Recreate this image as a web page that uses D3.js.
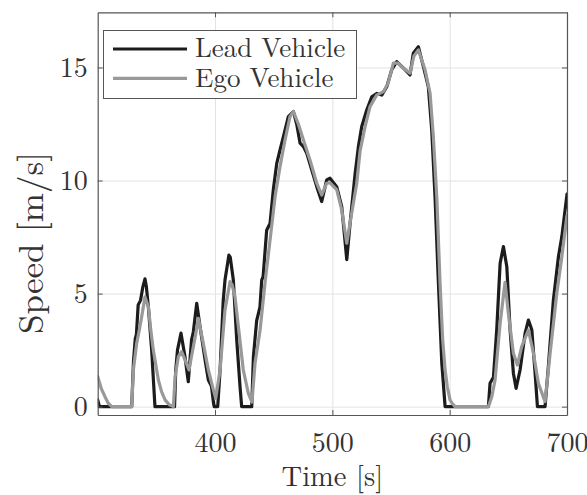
<!DOCTYPE html>
<html>
<head>
<meta charset="utf-8">
<script src="https://cdn.jsdelivr.net/npm/d3@7/dist/d3.min.js"></script>
<style>
  html, body { margin: 0; padding: 0; background: #ffffff; }
  svg { display: block; }
</style>
</head>
<body>
<svg id="chart" width="587" height="495"></svg>
<script>
// ---- data ----
const xTicks = [400, 500, 600, 700];
const yTicks = [0, 5, 10, 15];
const xLabel = "Time [s]";
const yLabel = "Speed [m/s]";
const seriesNames = ["Lead Vehicle", "Ego Vehicle"];

const leadTime = [300, 301.5, 329, 330.5, 332, 333, 334.5, 336.5, 338.5, 340.3, 341.5, 343.2, 346, 348.8,
  365.5, 366.5, 368, 371, 374.4, 377.2, 380, 381.5, 384.4, 387.2, 391.5, 394.3, 397, 398.6, 399.3,
  402.3, 404.3, 407, 408.5, 411.8, 413, 415.6, 418.5, 421.3, 422.7,
  431.3, 432.7, 435.5, 438.3, 439.8, 441, 444, 446.9, 449.7, 452.6, 455.4, 458.3, 462.5, 466.8,
  469.6, 472.5, 475.3, 478.2, 482.4, 486.7, 490.9, 495.2, 498, 503.7, 508, 512.3, 515.1, 519.4,
  522.2, 525, 529.3, 533.6, 537.8, 542.1, 546.4, 550.6, 554.9, 560.6, 566.2, 569, 573.3, 577.6,
  581.8, 584.7, 587.5, 590.4, 593.3, 596.1,
  633, 634.4, 637.3, 640.1, 643, 645.8, 648.7, 651.5, 654.3, 656.6, 660, 664.3, 667.1, 670, 672.8, 674.8,
  681.3, 684.1, 688.4, 692.7, 695.6, 700];
const leadSpeed = [0.3, 0, 0, 2.0, 3.0, 3.2, 4.5, 4.7, 5.3, 5.65, 5.3, 4.4, 2.5, 0,
  0, 1.6, 2.5, 3.25, 2.2, 1.1, 2.95, 3.3, 4.57, 3.54, 2.07, 1.18, 0.9, 0.2, 0,
  0, 1.6, 4.7, 5.6, 6.7, 6.6, 5.6, 2.95, 0.9, 0,
  0, 2.2, 3.8, 4.4, 5.6, 5.75, 7.8, 8.1, 9.6, 10.76, 11.35, 11.94, 12.83, 13.05,
  12.5, 11.65, 11.5, 11.2, 10.47, 9.73, 9.07, 10.03, 10.1, 9.73, 8.85, 6.5, 8.1, 10.3,
  11.5, 12.38, 13.12, 13.7, 13.85, 13.78, 14.15, 14.9, 15.26, 14.97, 14.67, 15.63, 15.92, 15.04,
  14.15, 12.24, 9.29, 5.46, 1.92, 0,
  0, 1.03, 1.3, 3.39, 6.34, 7.08, 6.19, 3.39, 1.48, 0.81, 1.62, 3.25, 3.83, 3.4, 1.48, 0,
  0, 1.77, 4.72, 6.63, 7.52, 9.4];

const egoTime = [300, 303, 306.2, 309, 312, 329, 330.4, 333.2, 335.5, 337.5, 340.3, 343.2, 345, 347.4,
  351.7, 354.5, 357.4, 361, 364.5, 366, 368.7, 371.5, 374.4, 377.8, 381.5, 383.5, 385.8, 390, 394.3,
  398.6, 400.6, 404.3, 408.5, 412.8, 414.5, 417, 419.9, 424.1, 428.4, 431.5, 434.1, 438.4, 442.6,
  446.9, 451.2, 455.4, 459.7, 463.9, 466.8, 471, 475.3, 481, 486.7, 490.9, 495.2, 498, 503.7, 508,
  512.3, 515, 520.8, 523.6, 527.9, 532.1, 537.8, 543.5, 547.5, 552, 556, 561, 566.2, 569.5, 573.3,
  579, 583.3, 586, 589, 591.8, 594, 596.1, 598, 600.3, 602, 604.6,
  633, 635.9, 638.7, 643, 647.2, 650, 654.3, 657.7, 661.4, 667.1, 671.4, 675.6, 681.3, 685.6, 691.3,
  695.6, 700];
const egoSpeed = [1.33, 0.8, 0.44, 0.15, 0, 0, 1.62, 2.8, 3.4, 3.98, 4.85, 4.42, 3.5, 2.5,
  1.18, 0.65, 0.3, 0.08, 0, 1.33, 2.2, 2.43, 2.07, 1.62, 2.65, 3.2, 3.9, 2.8, 1.62,
  0.74, 0.37, 1.62, 4.28, 5.53, 5.4, 4.87, 3.54, 1.62, 0.59, 0.2, 1.92, 3.39, 5.46,
  7.37, 9.29, 10.61, 11.8, 12.83, 13.05, 12.5, 11.8, 10.9, 9.88, 9.36, 9.88, 9.9, 9.6, 8.7,
  7.23, 8.1, 9.88, 11.3, 12.38, 13.27, 13.78, 13.93, 14.3, 15.19, 15.19, 14.95, 14.75, 15.5, 15.78,
  14.9, 13.86, 12.0, 9.29, 5.46, 3.0, 1.62, 0.88, 0.3, 0.15, 0,
  0, 0.44, 1.18, 3.69, 5.5, 4.13, 2.36, 1.84, 2.65, 3.39, 2.36, 1.03, 0.22, 2.36, 5.01,
  6.63, 8.45];

// ---- layout ----
const svg = d3.select("#chart");
const mLeft = 97.7, mRight = 567, mTop = 12.3, mBottom = 415;
const x = d3.scaleLinear().domain([300, 700]).range([mLeft, mRight]);
const y = d3.scaleLinear().domain([-0.37, 17.44]).range([mBottom, mTop]);
const W = mRight - mLeft, H = mBottom - mTop;
const frameColor = "#555555";
const textColor = "#333333";
const FONT = "Latin Modern Roman";
const tickFont = 28, xLabelFont = 28.5, yLabelFont = 35, legendFont = 27;

// grid
svg.append("g").attr("transform", `translate(0,${mBottom})`)
  .call(d3.axisBottom(x).tickValues(xTicks.filter(d => d < 700)).tickSize(-H).tickFormat(""))
  .call(g => g.select(".domain").remove())
  .call(g => g.selectAll("line").attr("stroke", "#e3e3e3").attr("stroke-width", 1));
svg.append("g").attr("transform", `translate(${mLeft},0)`)
  .call(d3.axisLeft(y).tickValues(yTicks).tickSize(-W).tickFormat(""))
  .call(g => g.select(".domain").remove())
  .call(g => g.selectAll("line").attr("stroke", "#e3e3e3").attr("stroke-width", 1));

// lines
svg.append("clipPath").attr("id", "clip")
  .append("rect").attr("x", mLeft).attr("y", mTop).attr("width", W).attr("height", H);
const line = d3.line().x(d => x(d[0])).y(d => y(d[1]));
const leadData = leadTime.map((t, i) => [t, leadSpeed[i]]);
const egoData = egoTime.map((t, i) => [t, egoSpeed[i]]);
const colors = ["#1c1c1c", "#999999"];
const plotG = svg.append("g").attr("clip-path", "url(#clip)");
plotG.append("path").datum(leadData).attr("d", line)
  .attr("fill", "none").attr("stroke", colors[0]).attr("stroke-width", 3.2)
  .attr("stroke-linejoin", "round").attr("stroke-linecap", "round");
plotG.append("path").datum(egoData).attr("d", line)
  .attr("fill", "none").attr("stroke", colors[1]).attr("stroke-width", 3.2)
  .attr("stroke-linejoin", "round").attr("stroke-linecap", "round");

// axes with inward ticks and labels
const tickLen = 5;
const xAx = svg.append("g").attr("transform", `translate(0,${mBottom})`)
  .call(d3.axisBottom(x).tickValues(xTicks).tickSize(-tickLen).tickSizeOuter(0).tickFormat(d3.format("d")));
const yAx = svg.append("g").attr("transform", `translate(${mLeft},0)`)
  .call(d3.axisLeft(y).tickValues(yTicks).tickSize(-tickLen).tickSizeOuter(0).tickFormat(d3.format("d")));
const xTop = svg.append("g").attr("transform", `translate(0,${mTop})`)
  .call(d3.axisTop(x).tickValues(xTicks).tickSize(-tickLen).tickSizeOuter(0).tickFormat(""));
const yRight = svg.append("g").attr("transform", `translate(${mRight},0)`)
  .call(d3.axisRight(y).tickValues(yTicks).tickSize(-tickLen).tickSizeOuter(0).tickFormat(""));
[xAx, yAx, xTop, yRight].forEach(g => {
  g.attr("font-family", FONT).attr("font-size", tickFont);
  g.select(".domain").attr("stroke", frameColor).attr("stroke-width", 1.2);
  g.selectAll(".tick line").attr("stroke", frameColor).attr("stroke-width", 1);
});
xAx.selectAll("text").attr("font-family", FONT).attr("y", 37).attr("dy", 0).attr("fill", textColor);
yAx.selectAll("text").attr("font-family", FONT).attr("x", -10).attr("dy", "0.33em").attr("fill", textColor);

// axis labels
svg.append("text").attr("x", (mLeft + mRight) / 2).attr("y", 486)
  .attr("font-family", FONT).attr("font-size", xLabelFont).attr("fill", textColor)
  .attr("text-anchor", "middle").text(xLabel);
svg.append("text").attr("transform", `translate(43,243) rotate(-90)`)
  .attr("font-family", FONT).attr("font-size", yLabelFont).attr("fill", textColor)
  .attr("text-anchor", "middle").text(yLabel);

// legend
const lg = svg.append("g");
lg.append("rect").attr("x", 103.5).attr("y", 30.5).attr("width", 253).attr("height", 68)
  .attr("fill", "#ffffff").attr("stroke", frameColor).attr("stroke-width", 1);
const legendY = [49, 78.3];
const legendBase = [56.7, 86.5];
seriesNames.forEach((name, i) => {
  lg.append("line").attr("x1", 113).attr("x2", 187).attr("y1", legendY[i]).attr("y2", legendY[i])
    .attr("stroke", colors[i]).attr("stroke-width", 3.2);
  lg.append("text").attr("x", 195).attr("y", legendBase[i])
    .attr("font-family", FONT).attr("font-size", legendFont).attr("fill", textColor).text(name);
});
</script>
</body>
</html>
